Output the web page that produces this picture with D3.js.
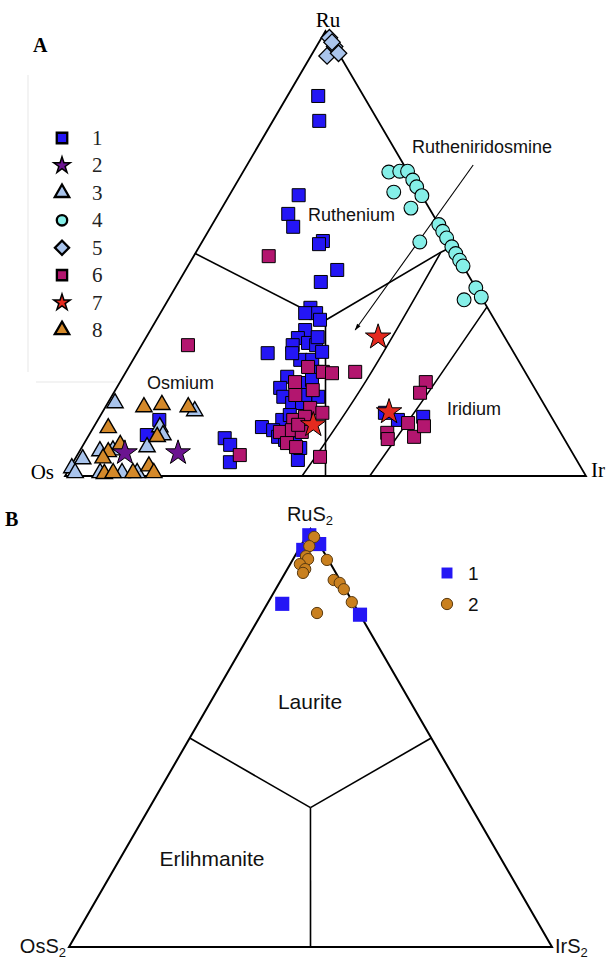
<!DOCTYPE html>
<html><head><meta charset="utf-8">
<script src="https://cdn.jsdelivr.net/npm/d3@7"></script>
<style>body{margin:0;background:#fff} svg{display:block}</style>
</head><body>
<svg id="c" width="615" height="960"></svg>
<script>
// ---------- DATA: [Ru, Ir, Os] in % ----------
// Panel A
const s1 = [[85.4,5.9,8.7],[79.8,8.9,11.3],[63.1,13.3,23.6],[58.9,13.4,27.7],[56.0,15.8,28.2],[52.8,23.1,24.1],[52.1,22.7,25.2],[46.3,29.1,24.6],[43.6,27.3,29.1],
 [37.8,28.2,34.0],[36.6,29.9,33.5],[35.1,31.4,33.5],[36.6,27.8,35.6],[32.8,29.7,37.5],[31.0,29.2,39.8],[27.6,25.1,47.3],[29.4,29.0,41.6],[29.9,31.7,38.4],[29.4,33.5,37.1],[26.1,32.1,41.8],[26.1,34.4,39.5],[27.9,35.4,36.7],[23.4,36.7,39.9],[22.3,31.5,46.2],[19.8,31.4,48.8],[17.8,33.0,49.2],[20.9,34.7,44.4],[21.6,36.6,41.8],[16.4,35.4,48.2],[12.6,35.4,52.0],[11.0,32.3,56.7],[10.3,34.8,54.9],[8.8,36.5,54.7],[8.1,38.2,53.7],[7.4,40.4,52.2],[8.5,26.4,65.1],[7.0,28.2,64.8],[3.1,30.1,66.8],[3.6,42.9,53.5],[16.4,37.3,46.3],[17.8,39.7,42.5],[31.2,32.9,35.9],[27.6,29.8,42.6],[18.2,37.0,44.8],[13.7,36.3,50.0],[6.3,42.0,51.7],
 [12.6,11.8,75.6],[9.2,11.1,79.7],
 [14.2,54.3,31.5],[12.6,57.6,29.8],[13.3,62.1,24.6]];
const s2 = [[5.2,8.9,85.9],[5.2,19.1,75.7]];
const s3 = [[16.4,1.4,82.2],[14.6,17.6,67.8],[11.0,12.7,76.3],[9.2,14.2,76.6],[6.5,12.5,81.0],[5.6,3.9,90.5],[3.8,1.5,94.7],[1.8,0.4,97.8],[0.7,1.6,97.7],[0.7,6.4,92.9],[0.7,10.6,88.7],[0.7,13.5,85.8],[5.8,6.3,87.9]];
const s4 = [[68.3,28.0,3.7],[68.5,30.0,1.5],[68.5,31.5,0],[66.5,33.5,0],[65,35,0],[63,37,0],[63.8,31.2,5.0],[60.2,36.3,3.5],[56.5,43.5,0],[55,45,0],[53.5,46.5,0],[51.5,48.5,0],[50,50,0],[48.5,51.5,0],[47.2,52.8,0],[42.3,57.7,0],[40.2,59.8,0],[39.6,56.8,3.6],[52.6,41.8,5.6]];
const s5 = [[98.5,1.5,0],[96.5,3.5,0],[94.4,3.1,2.5],[95,5,0],[97.5,2.5,0]];
const s6 = [[49.4,14.4,36.2],[29.4,8.9,61.7],[24.5,34.4,41.1],[23.4,37.8,38.8],[23.1,39.7,37.2],[23.4,44.0,32.6],[21.1,33.6,45.3],[18.2,35.1,46.7],[19.3,37.9,42.8],[15.3,39.4,45.3],[14.2,42.3,43.6],[12.6,37.5,49.9],[13.3,39.4,47.3],[9.9,36.3,53.8],[10.3,38.4,51.3],[7.4,38.9,53.7],[9.9,40.5,49.6],[4.3,46.8,48.9],[4.7,31.2,64.1],[11.5,39.0,49.5],[6.5,41.1,52.4],
 [21.1,58.7,20.2],[18.7,58.8,22.5],[9.7,57.0,33.3],[8.3,57.8,33.9],[11.9,59.9,28.2],[8.8,62.6,28.6],[11.2,63.3,25.5]];
const s7 = [[31.2,44.5,24.3],[14.4,55.0,30.6],[11.5,41.9,46.7]];
const s8 = [[15.5,7.4,77.1],[16.0,10.6,73.4],[15.5,15.9,68.6],[10.8,2.9,86.3],[7.0,7.1,85.9],[5.4,5.6,89.0],[4.0,5.3,90.7],[0.5,7.3,92.2],[0.7,8.9,90.4],[0.7,12.7,86.6],[2.2,15.0,82.8],[0.7,16.7,82.6],[8.8,13.3,77.9]];
const legendA = ["1","2","3","4","5","6","7","8"];
const vertA = ["Ru","Os","Ir"];
const fieldsA = ["Ruthenium","Osmium","Iridium","Rutheniridosmine"];
// field boundaries A
const bLinesA = [
  [[50,0,50],[35,32.5,32.5]],
  [[35,32.5,32.5],[0,50,50]],
  [[35,32.5,32.5],[50.3,47,2.7]],
  [[50.3,47,2.7],[51.5,48.5,0]]
];
const bCurvesA = [
  [[0,45.5,54.5],[21.6,47.1,31.3],[50.3,47,2.7]],
  [[0,58.5,41.5],[19.3,60.4,20.3],[38,62,0]]
];
const arrowA = [[69.9,43.4,-13.3],[32.8,39.3,27.9]];

// Panel B: [RuS2, IrS2, OsS2]
const b1 = [[98.5,0.5,1.0],[96.4,3.6,0],[95.0,1.0,4.0],[82.1,3.1,14.8],[79.5,20.5,0]];
const b2 = [[98.1,1.7,0.2],[95.9,1.8,2.3],[93.5,2.3,4.2],[92.8,3.1,4.1],[91.6,2.0,6.4],[90.4,3.7,5.9],[89.5,3.7,6.8],[92.6,7.1,0.3],[87.8,10.9,1.3],[87.1,12.5,0.4],[85.6,14.1,0.3],[82.5,17.3,0.2],[79.9,11.4,8.7]];
const legendB = ["1","2"];
const fieldsB = ["Laurite","Erlihmanite"];
const bLinesB = [
  [[50,0,50],[33.33,33.33,33.33]],
  [[50,50,0],[33.33,33.33,33.33]],
  [[33.33,33.33,33.33],[0,50,50]]
];

// ---------- DRAW ----------
const svg = d3.select("#c");
const scA = {x: d3.scaleLinear().domain([0,100]).range([65,586]), y: d3.scaleLinear().domain([0,100]).range([476,31])};
const scB = {x: d3.scaleLinear().domain([0,100]).range([69,552]), y: d3.scaleLinear().domain([0,100]).range([947,529])};
const P = (s) => (d) => [s.x(d[1] + d[0]/2), s.y(d[0])];
const pA = P(scA), pB = P(scB);

const col = {blue:"#2416f5", star2:"#6b1490", lb:"#a9c4ec", cyan:"#85efe8", mag:"#b3166f", red:"#e42a1f", org:"#d4892a"};

// faint legend frame artifact
svg.append("path").attr("d","M28,75 L28,372 M36,382 L118,382").attr("stroke","#efefef").attr("stroke-width",1.5).attr("fill","none");

function triangle(p, stroke){
  svg.append("path").attr("d", d3.line()([p([100,0,0]),p([0,0,100]),p([0,100,0])]) + "Z")
    .attr("fill","none").attr("stroke","#000").attr("stroke-width",stroke).attr("stroke-linejoin","miter");
}
triangle(pA, 1.8);
bLinesA.forEach(l => svg.append("path").attr("d", d3.line()(l.map(pA))).attr("stroke","#000").attr("stroke-width",1.6).attr("fill","none"));
bCurvesA.forEach(l => svg.append("path").attr("d", d3.line().curve(d3.curveNatural)(l.map(pA))).attr("stroke","#000").attr("stroke-width",1.6).attr("fill","none"));
// arrow
svg.append("defs").append("marker").attr("id","ah").attr("viewBox","0 0 10 10").attr("refX",9).attr("refY",5)
  .attr("markerWidth",9).attr("markerHeight",7).attr("orient","auto").attr("markerUnits","userSpaceOnUse")
  .append("path").attr("d","M0,2 L10,5 L0,8 Z").attr("fill","#000");
svg.append("path").attr("d", d3.line()(arrowA.map(pA))).attr("stroke","#000").attr("stroke-width",1.1).attr("fill","none").attr("marker-end","url(#ah)");

function sym(type, size){ return d3.symbol().type(type).size(size)(); }
function plot(data, p, type, size, fill, stroke, sw, rot){
  svg.append("g").selectAll("path").data(data).join("path")
    .attr("transform", d => { const q = p(d); return `translate(${q[0]},${q[1]})` + (rot ? ` rotate(${rot})` : ""); })
    .attr("d", sym(type, size)).attr("fill", fill).attr("stroke", stroke).attr("stroke-width", sw);
}
// draw order
plot(s5, pA, d3.symbolSquare, 135, col.lb, "#000", 1.3, 45);
plot(s4, pA, d3.symbolCircle, 150, col.cyan, "#000", 1.1);
plot(s1, pA, d3.symbolSquare, 169, col.blue, "#000", 1);
plot(s3, pA, d3.symbolTriangle, 115, col.lb, "#000", 1.4);
plot(s8, pA, d3.symbolTriangle, 115, col.org, "#000", 1.4);
plot(s2, pA, d3.symbolStar, 190, col.star2, "#000", 1);
plot(s6, pA, d3.symbolSquare, 169, col.mag, "#000", 1);
plot(s7, pA, d3.symbolStar, 200, col.red, "#000", 1);

// legend A
const legSym = [
  [d3.symbolSquare,110,col.blue,0],[d3.symbolStar,85,col.star2,0],[d3.symbolTriangle,90,col.lb,0],[d3.symbolCircle,85,col.cyan,0],
  [d3.symbolSquare,100,col.lb,45],[d3.symbolSquare,105,col.mag,0],[d3.symbolStar,85,col.red,0],[d3.symbolTriangle,90,col.org,0]];
const ly = d3.scalePoint().domain(legendA).range([138,330]);
legendA.forEach((t,i) => {
  const s = legSym[i];
  svg.append("path").attr("transform",`translate(62,${ly(t)}) rotate(${s[3]})`).attr("d", sym(s[0], s[1]))
    .attr("fill", s[2]).attr("stroke","#000").attr("stroke-width", i===1||i===6 ? 1.5 : 2.3);
  svg.append("text").attr("x",92).attr("y",ly(t)+7).text(t)
    .attr("font-family","Liberation Serif, Times New Roman, serif").attr("font-size",21).attr("fill","#222");
});

const serif = "Liberation Serif, Times New Roman, serif", sans = "Liberation Sans, Arial, sans-serif";
svg.append("text").attr("x",33).attr("y",52).text("A").attr("font-family",serif).attr("font-weight","bold").attr("font-size",20);
svg.append("text").attr("x",328).attr("y",27).attr("text-anchor","middle").text(vertA[0]).attr("font-family",serif).attr("font-size",21);
svg.append("text").attr("x",54).attr("y",479).attr("text-anchor","end").text(vertA[1]).attr("font-family",serif).attr("font-size",21);
svg.append("text").attr("x",591).attr("y",477).text(vertA[2]).attr("font-family",serif).attr("font-size",21);
const fA = [[308,221],[147,389],[447,415],[412,153]];
fieldsA.forEach((t,i)=> svg.append("text").attr("x",fA[i][0]).attr("y",fA[i][1]).text(t).attr("font-family",sans).attr("font-size",18).attr("fill","#111"));

// ---------- Panel B ----------
triangle(pB, 2);
bLinesB.forEach(l => svg.append("path").attr("d", d3.line()(l.map(pB))).attr("stroke","#000").attr("stroke-width",1.6).attr("fill","none"));
plot(b1, pB, d3.symbolSquare, 200, col.blue, "none", 0);
plot(b2, pB, d3.symbolCircle, 100, "#c9801f", "#5a3a10", 1);

svg.append("text").attr("x",5).attr("y",526).text("B").attr("font-family",serif).attr("font-weight","bold").attr("font-size",20);
function chem(x, y, base, anchor){
  const t = svg.append("text").attr("x",x).attr("y",y).attr("text-anchor",anchor).attr("font-family",sans).attr("font-size",20).attr("fill","#111");
  t.append("tspan").text(base);
  t.append("tspan").attr("dy",4).attr("font-size",13).text("2");
}
chem(310, 521, "RuS", "middle");
chem(66, 953, "OsS", "end");
chem(555, 953, "IrS", "start");
const fB = [[310,709],[212,866]];
fieldsB.forEach((t,i)=> svg.append("text").attr("x",fB[i][0]).attr("y",fB[i][1]).attr("text-anchor","middle").text(t).attr("font-family",sans).attr("font-size",21).attr("fill","#111"));

const lyB = d3.scalePoint().domain(legendB).range([573,604]);
svg.append("path").attr("transform",`translate(447,${lyB("1")})`).attr("d",sym(d3.symbolSquare,120)).attr("fill",col.blue);
svg.append("path").attr("transform",`translate(447,${lyB("2")})`).attr("d",sym(d3.symbolCircle,100)).attr("fill","#c9801f").attr("stroke","#5a3a10").attr("stroke-width",1);
legendB.forEach(t => svg.append("text").attr("x",468).attr("y",lyB(t)+7).text(t).attr("font-family",sans).attr("font-size",19).attr("fill","#111"));
</script>
</body></html>
